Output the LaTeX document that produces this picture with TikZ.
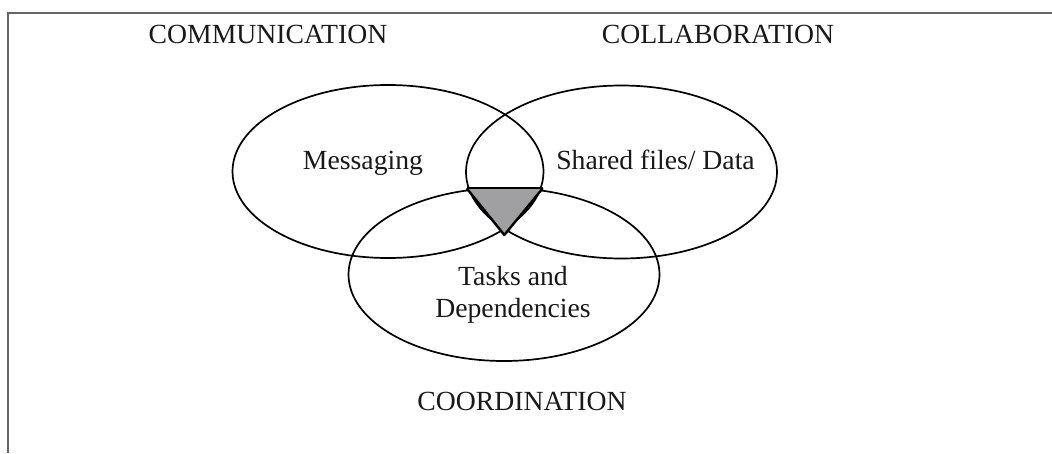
\documentclass[tikz,border=0pt]{standalone}
\usepackage{fontspec}
\setmainfont{Liberation Serif}
\usetikzlibrary{shapes.geometric}
\begin{document}
\begin{tikzpicture}[x=1pt,y=-1pt,
  lbl/.style={anchor=base,inner sep=0pt,font=\fontsize{27.7}{32}\selectfont,text=black!90},
  venn/.style={draw=black,line width=1.7pt,ellipse,minimum width=311pt,minimum height=173pt,inner sep=0pt},
  frameline/.style={draw=black!60,line width=2pt}]
\useasboundingbox (0,0) rectangle (1052,453);
% frame
\coordinate (fb) at (8,453);
\coordinate (ftl) at (8,13);
\coordinate (ftr) at (1052,13);
\draw[frameline] (fb) -- (ftl) -- (ftr);
% circles
\node[venn] (comm) at (388,171.5) {};
\node[venn] (coll) at (621.5,172) {};
\node[venn] (coord) at (504,274.5) {};
% shaded triangle
\coordinate (t1) at (466.7,188.3);
\coordinate (t2) at (542.7,188.3);
\coordinate (t3) at (504.3,235);
\fill[fill={rgb,255:red,160;green,160;blue,163}] (t1) -- (t2) -- (t3) -- cycle;
\draw[line width=1.7pt] (t1) -- (t2);
\draw[line width=2.4pt,line join=round] (t1) -- (t3) -- (t2);
% labels
\node[lbl] (l1) at (268,43) {COMMUNICATION};
\node[lbl] (l2) at (718,43) {COLLABORATION};
\node[lbl] (l3) at (363,169) {Messaging};
\node[lbl] (l4) at (655.5,169) {Shared files/ Data};
\node[lbl] (l5) at (513,285) {Tasks and};
\node[lbl] (l6) at (513,317) {Dependencies};
\node[lbl] (l7) at (522,410) {COORDINATION};
\end{tikzpicture}
\end{document}
